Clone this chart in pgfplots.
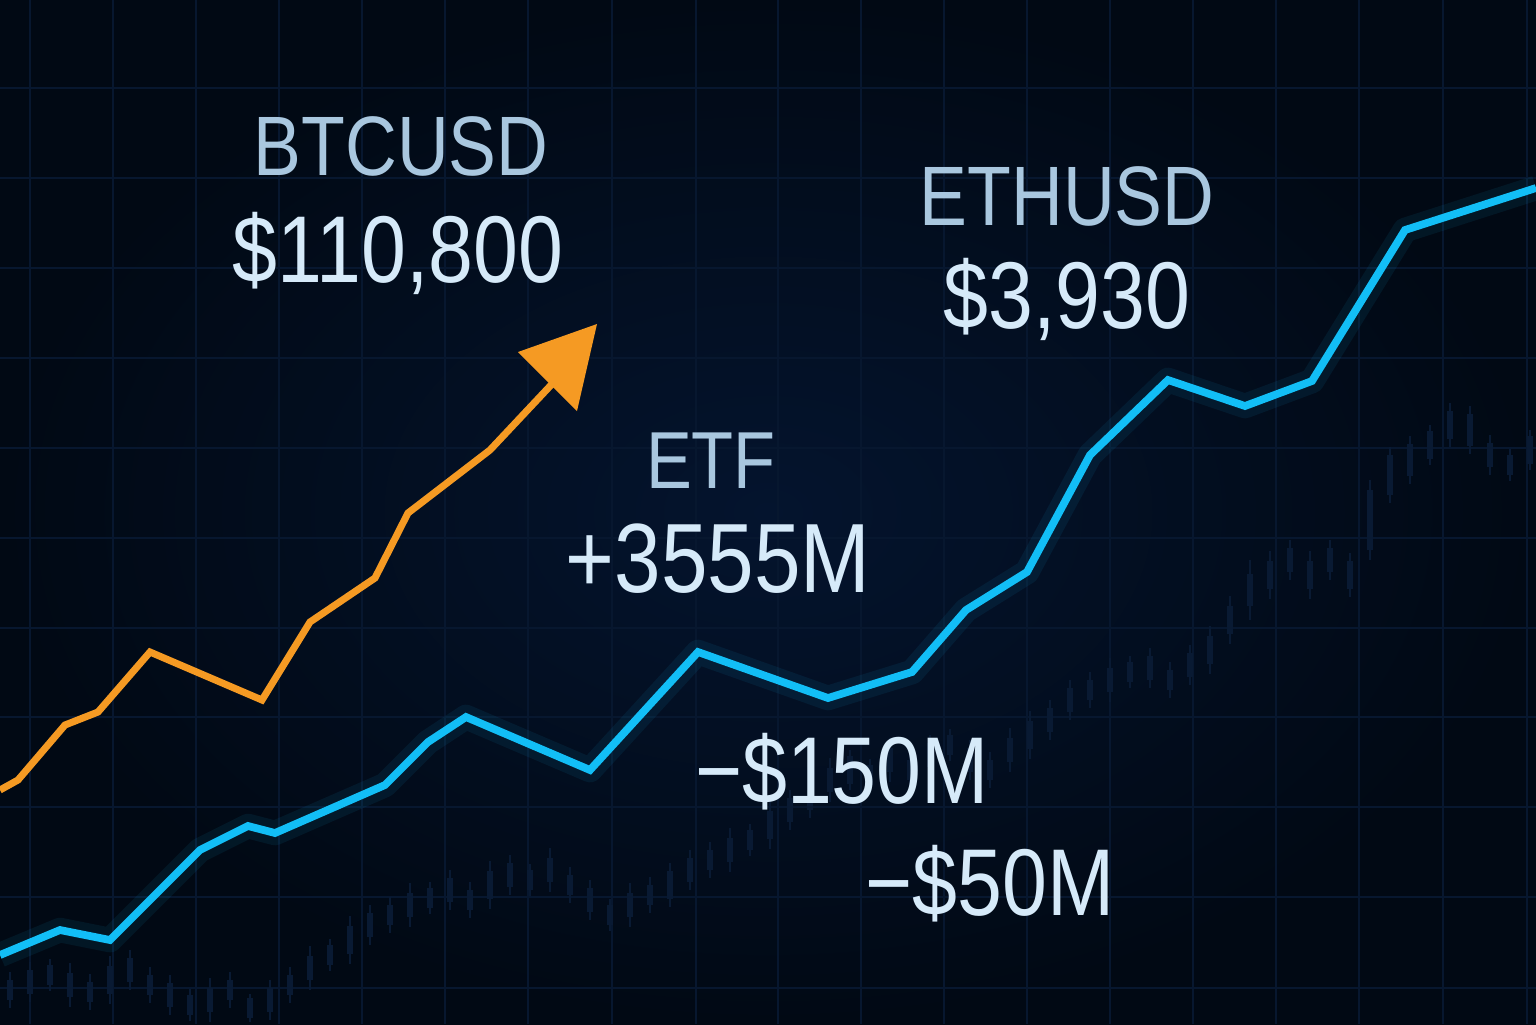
\documentclass[border=0pt]{standalone}
\usepackage{pgfplots}
\pgfplotsset{compat=1.18}
\usepackage{fontspec}
\setmainfont{Liberation Sans}[FakeStretch=0.85]
\definecolor{bgin}{HTML}{04142E}
\definecolor{bgout}{HTML}{010914}
\definecolor{gridc}{HTML}{07172F}
\definecolor{candle}{HTML}{091A33}
\definecolor{btc}{HTML}{F59A23}
\definecolor{eth}{HTML}{12BEF6}
\definecolor{lab}{HTML}{A9C7DF}
\definecolor{val}{HTML}{D6EAF9}
\pgfplotstableread{
x mid body wick
10 990 10 18
30 982 12 20
50 975 10 16
70 985 12 22
90 992 10 18
110 980 14 24
130 970 12 20
150 985 10 18
170 995 12 20
190 1005 10 16
210 1000 12 22
230 990 10 18
250 1008 10 14
270 1000 12 20
290 985 10 18
310 968 12 22
330 955 10 16
350 940 14 24
370 925 12 20
390 915 10 18
410 905 12 22
430 898 10 16
450 890 12 20
470 900 10 18
490 885 14 24
510 875 12 20
530 880 10 16
550 870 12 22
570 885 10 18
590 900 12 20
610 915 10 16
630 905 12 22
650 895 10 18
670 885 14 22
690 870 12 20
710 860 10 18
730 850 12 22
750 840 10 16
770 825 14 24
790 810 12 20
810 800 10 18
830 780 12 22
850 770 14 20
870 775 10 16
890 760 12 22
910 770 10 18
930 755 12 20
950 745 10 16
970 760 12 20
990 770 10 18
1010 750 12 22
1030 735 14 24
1050 720 12 20
1070 700 12 20
1090 690 10 18
1110 680 12 22
1130 672 10 16
1150 668 12 20
1170 680 10 18
1190 665 12 20
1210 650 14 24
1230 620 14 24
1250 590 16 30
1270 575 14 24
1290 560 12 20
1310 575 14 24
1330 560 12 20
1350 575 14 22
1370 520 30 40
1390 475 20 28
1410 460 16 24
1430 445 14 20
1450 425 14 22
1470 430 16 24
1490 455 12 20
1510 465 10 16
1530 450 14 20
}\candles
\pgfplotstableread{
x y
0 790
18 780
65 725
98 712
150 652
262 700
310 622
375 578
408 513
490 450
552 384
}\btcline
\pgfplotstableread{
x y
0 955
60 930
110 940
200 850
248 826
275 833
385 785
428 742
466 717
590 770
698 652
828 698
912 672
966 610
1027 572
1090 455
1168 380
1245 406
1312 381
1405 230
1536 188
}\ethline
\begin{document}
\begin{tikzpicture}
\begin{axis}[
  scale only axis, width=15.36cm, height=10.24cm,
  xmin=0, xmax=1536, ymin=0, ymax=1024, y dir=reverse,
  axis line style={draw=none},
  major tick length=0pt,
  xtick={30,113,196,279,362,445,528,612,696,778,861,944,1027,1110,1193,1276,1359,1443,1527},
  ytick={88,178,268,358,448,538,628,717,807,897,988},
  xticklabels={}, yticklabels={},
  grid=major, grid style={color=gridc, line width=0.35pt},
  axis background/.style={inner color=bgin, outer color=bgout},
  clip=true,
]
% faint candles
\addplot[draw=none, mark=none, forget plot,
  error bars/.cd, y dir=both, y explicit,
  error bar style={color=candle, line width=0.5pt}, error mark=none]
  table[x=x, y=mid, y error=wick] {\candles};
\addplot[draw=none, mark=none, forget plot,
  error bars/.cd, y dir=both, y explicit,
  error bar style={color=candle, line width=1.7pt}, error mark=none]
  table[x=x, y=mid, y error=body] {\candles};
% ETH line with glow
\addplot[color=eth, opacity=0.08, line width=7pt, line join=round] table {\ethline};
\addplot[color=eth, line width=2.2pt, line join=miter] table {\ethline};
% BTC line with arrow
\addplot[color=btc, line width=2pt, line join=miter] table {\btcline};
\addplot[fill=btc, draw=none] coordinates {(597,324) (518,352) (577,411)} -- cycle;
% texts
\node[anchor=base, text=lab, font=\fontsize{24}{28}\selectfont] at (axis cs:401,175) {BTCUSD};
\node[anchor=base, text=val, font=\fontsize{27}{30}\selectfont] at (axis cs:398,282) {\$110,800};
\node[anchor=base, text=lab, font=\fontsize{24}{28}\selectfont] at (axis cs:1067,225) {ETHUSD};
\node[anchor=base, text=val, font=\fontsize{27}{30}\selectfont] at (axis cs:1067,328) {\$3,930};
\node[anchor=base, text=lab, font=\fontsize{23}{28}\selectfont] at (axis cs:711,488) {ETF};
\node[anchor=base, text=val, font=\fontsize{28}{30}\selectfont] at (axis cs:718,592) {+3555M};
\node[anchor=base, text=val, font=\fontsize{27}{30}\selectfont] at (axis cs:842,803) {−\$150M};
\node[anchor=base, text=val, font=\fontsize{27}{30}\selectfont] at (axis cs:990,915) {−\$50M};
\end{axis}
\pgfresetboundingbox
\path (current axis.south west) rectangle (current axis.north east);
\end{tikzpicture}
\end{document}
